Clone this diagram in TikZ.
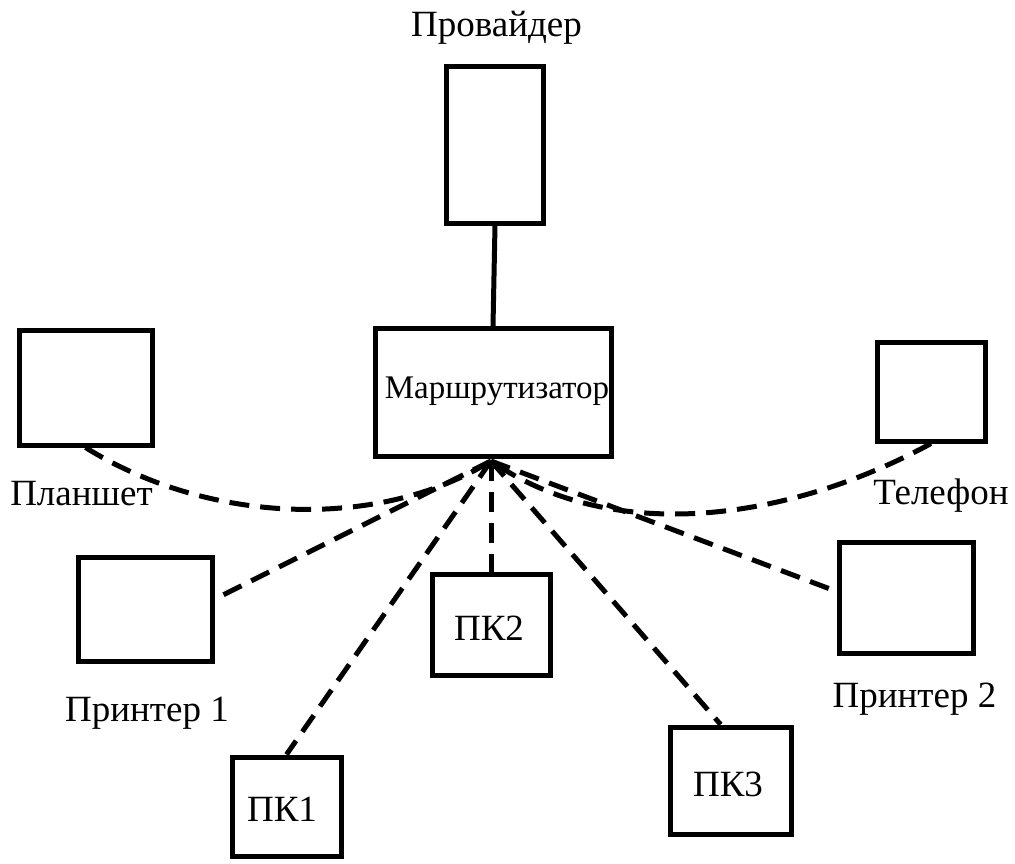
\documentclass[tikz,border=0pt]{standalone}
\usepackage{fontspec}
\setmainfont{Liberation Serif}
\begin{document}
\begin{tikzpicture}[x=1pt,y=-1pt,
  box/.style={draw,line width=5pt,rectangle,inner sep=0pt,minimum width=#1},
  lbl/.style={font=\fontsize{37}{40}\selectfont,inner sep=0pt,anchor=base},
  rlbl/.style={font=\fontsize{33}{36}\selectfont,inner sep=0pt,anchor=base},
  link/.style={line width=5pt,dash pattern=on 20pt off 11pt}]
\useasboundingbox (0,0) rectangle (1015,864);
\node[box=97pt,minimum height=156pt] (prov) at (495,145) {};
\node[box=236pt,minimum height=128pt] (router) at (493,392.5) {};
\node[rlbl] (routerlbl) at (497,398) {Маршрутизатор};
\node[box=133pt,minimum height=115pt] (plan) at (85.5,387.5) {};
\node[box=108pt,minimum height=99pt] (tel) at (931,391.5) {};
\node[box=134pt,minimum height=104pt] (pr1) at (145,609) {};
\node[box=118pt,minimum height=101pt] (pk2) at (491,624.5) {};
\node[box=134pt,minimum height=111pt] (pr2) at (906,597.5) {};
\node[box=109pt,minimum height=99pt] (pk1) at (286.5,806.5) {};
\node[box=121pt,minimum height=107pt] (pk3) at (730.5,780.5) {};
\node[lbl] (provlbl) at (496.5,37) {Провайдер};
\node[lbl] (planlbl) at (81.5,505) {Планшет};
\node[lbl] (tellbl) at (941,504) {Телефон};
\node[lbl] (pr1lbl) at (147,721) {Принтер 1};
\node[lbl] (pr2lbl) at (914.5,707) {Принтер 2};
\node[lbl] (pk1lbl) at (282,821) {ПК1};
\node[lbl] (pk2lbl) at (489,640) {ПК2};
\node[lbl] (pk3lbl) at (728,796) {ПК3};
\coordinate (hub) at (491,461);
\draw[line width=5pt] (prov.south) -- (router.north);
\draw[link] (plan.south) .. controls (210,525) and (380,530) .. (hub);
\draw[link] (tel.south) .. controls (800,515) and (620,550) .. (hub);
\draw[link] (hub) -- (pr1.8);
\draw[link] (hub) -- (pk1.north);
\draw[link] (hub) -- (pk2.north);
\draw[link] (hub) -- (pk3.100);
\draw[link] (hub) -- (pr2.175);
\end{tikzpicture}
\end{document}
